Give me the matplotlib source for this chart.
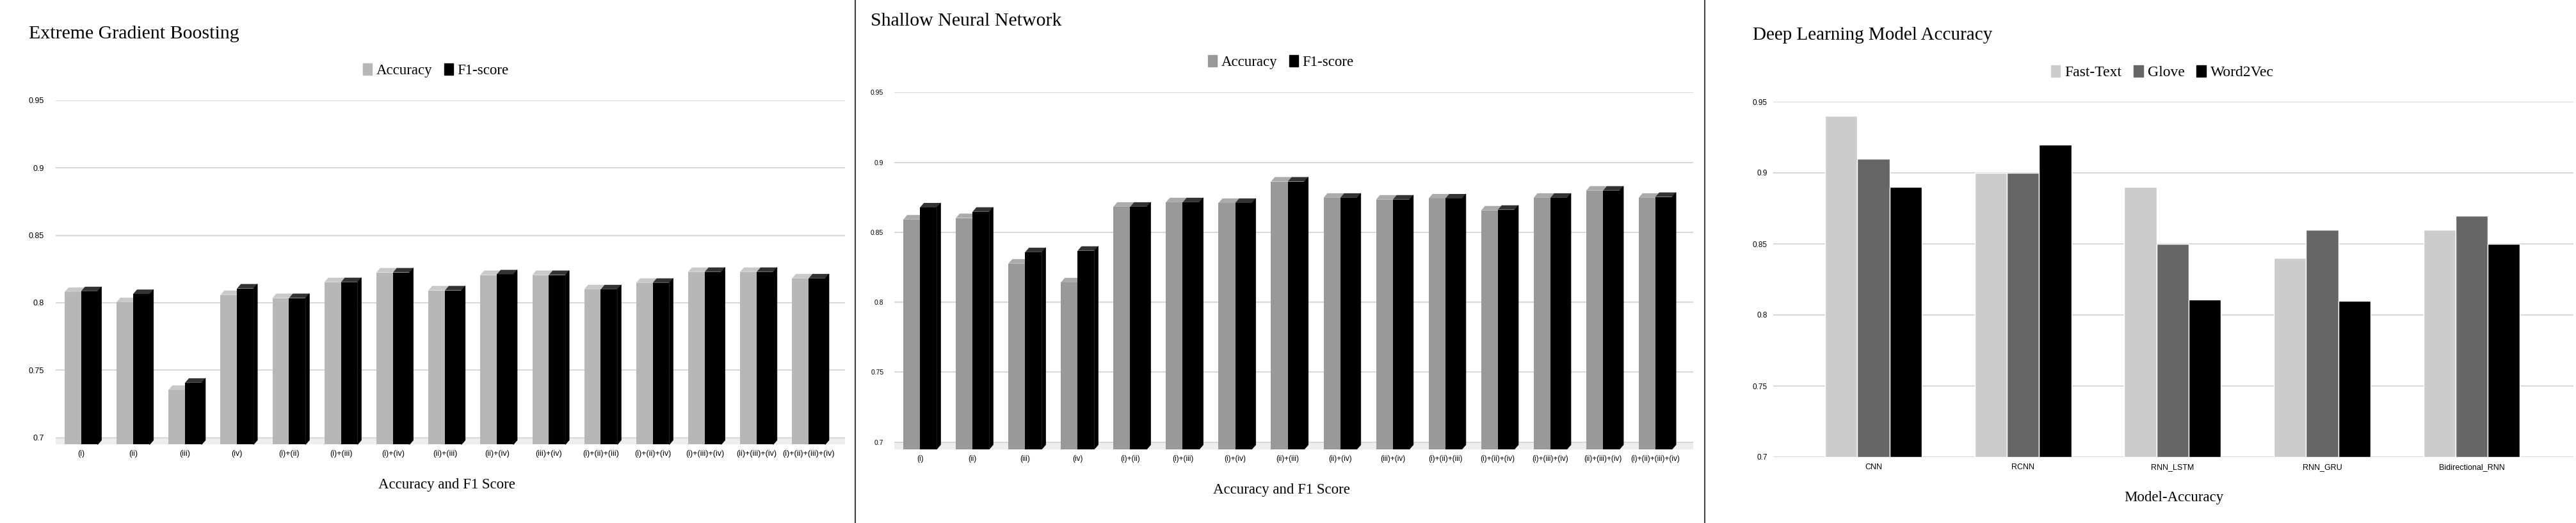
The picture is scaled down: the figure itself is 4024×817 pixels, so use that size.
"""Three bar panels: XGBoost / shallow NN accuracy+F1 per feature combo, DL model accuracy."""

import matplotlib

matplotlib.use("Agg")
import matplotlib.pyplot as plt
import numpy as np
from matplotlib import font_manager
from matplotlib.lines import Line2D
from matplotlib.patches import Patch, Polygon

W, H = 4024, 817

combo_labels = ["(i)", "(ii)", "(iii)", "(iv)", "(i)+(ii)", "(i)+(iii)", "(i)+(iv)",
                "(ii)+(iii)", "(ii)+(iv)", "(iii)+(iv)", "(i)+(ii)+(iii)", "(i)+(ii)+(iv)",
                "(i)+(iii)+(iv)", "(ii)+(iii)+(iv)", "(i)+(ii)+(iii)+(iv)"]

xgb_accuracy = [0.808, 0.8005, 0.7354, 0.8058, 0.8035, 0.8153, 0.8225, 0.8092,
                0.8206, 0.8206, 0.810, 0.8148, 0.8229, 0.8229, 0.8181]
xgb_f1 = [0.8086, 0.8065, 0.7407, 0.8106, 0.8035, 0.8153, 0.8225, 0.8092,
          0.8211, 0.8206, 0.810, 0.8148, 0.8229, 0.8229, 0.8181]

snn_accuracy = [0.8592, 0.8602, 0.8276, 0.8142, 0.8683, 0.8715, 0.8710, 0.8863,
                0.8747, 0.8734, 0.8742, 0.8656, 0.8747, 0.8798, 0.8747]
snn_f1 = [0.8678, 0.8647, 0.8358, 0.8368, 0.8683, 0.8715, 0.8710, 0.8863,
          0.8747, 0.8734, 0.8742, 0.8661, 0.8747, 0.8798, 0.8753]

dl_models = ["CNN", "RCNN", "RNN_LSTM", "RNN_GRU", "Bidirectional_RNN"]
fasttext_acc = [0.94, 0.90, 0.89, 0.84, 0.86]
glove_acc = [0.91, 0.90, 0.85, 0.86, 0.87]
word2vec_acc = [0.89, 0.92, 0.811, 0.81, 0.85]

y_ticks = [0.7, 0.75, 0.8, 0.85, 0.9, 0.95]

names = {f.name for f in font_manager.fontManager.ttflist}
SANS = "Liberation Sans Narrow" if "Liberation Sans Narrow" in names else "Liberation Sans"
SERIF = "Liberation Serif"


def fx(px):
    return px / W


def fy(py):
    return 1 - py / H


def make_axes(fig, left, right, top, bottom):
    return fig.add_axes([fx(left), fy(bottom), fx(right - left), (bottom - top) / H])


def style_axes(ax, ylim, tick_size, ypad, xpad):
    ax.set_ylim(*ylim)
    ax.set_yticks(y_ticks)
    ax.set_yticklabels([f"{t:g}" for t in y_ticks], family=SANS, fontsize=tick_size)
    ax.yaxis.grid(True, color="#D9D9D9", lw=1.5)
    ax.set_axisbelow(True)
    for s in ax.spines.values():
        s.set_visible(False)
    ax.tick_params(axis="y", length=0, pad=ypad)
    ax.tick_params(axis="x", length=0, pad=xpad)


def bars_3d(ax, x, vals, offset, width, bottom, color, cap, dx, dy, side=False):
    rects = ax.bar(x + offset, np.array(vals) - bottom, width, bottom=bottom,
                   color=color, align="edge", zorder=2)
    for r, v in zip(rects, vals):
        x0, w = r.get_x(), r.get_width()
        ax.add_patch(Polygon([(x0, v), (x0 + dx, v + dy), (x0 + w + dx, v + dy), (x0 + w, v)],
                             closed=True, color=cap, lw=0, zorder=2))
        if side:
            ax.add_patch(Polygon([(x0 + w, bottom), (x0 + w, v), (x0 + w + dx, v + dy),
                                  (x0 + w + dx, bottom + dy)],
                                 closed=True, color=color, lw=0.5, zorder=2))


def pair_panel(fig, box, acc, f1, acc_color, acc_cap, xlim, ylim, tick_size, xtick_size,
               ypad, xpad, dy):
    ax = make_axes(fig, *box)
    x = np.arange(len(combo_labels))
    w = 0.318
    dx = 0.074
    ax.axhspan(ylim[0], 0.7, color="#EEEEEE", lw=0, zorder=0)
    bars_3d(ax, x, acc, -w, w, ylim[0], acc_color, acc_cap, dx, dy)
    bars_3d(ax, x, f1, 0, w, ylim[0], "#000000", "#333333", dx, dy, side=True)
    ax.set_xlim(*xlim)
    ax.set_xticks(x)
    ax.set_xticklabels(combo_labels, family=SANS, fontsize=xtick_size)
    style_axes(ax, ylim, tick_size, ypad, xpad)
    return ax


LEG = dict(frameon=False, handlelength=0.6, handleheight=0.8, handletextpad=0.3,
           columnspacing=0.8, loc="center")

fig = plt.figure(figsize=(W / 100, H / 100), dpi=100)

# --- Panel 1: Extreme Gradient Boosting ---------------------------------------
pair_panel(fig, (87, 1320, 157, 694.5), xgb_accuracy, xgb_f1, "#B7B7B7", "#C9C9C9",
           (-0.49, 14.70), (0.6948, 0.95), 9, 9, 13, 6, 0.0033)
fig.text(fx(45), fy(53), "Extreme Gradient Boosting", family=SERIF, fontsize=21.5, va="center")
fig.legend(handles=[Patch(color="#B7B7B7", label="Accuracy"), Patch(color="#000000", label="F1-score")],
           bbox_to_anchor=(fx(681), fy(110)), ncol=2, prop={"family": SERIF, "size": 16.5}, **LEG)
fig.text(fx(698), fy(757), "Accuracy and F1 Score", family=SERIF, fontsize=16.5,
         ha="center", va="center")

# --- Panel 2: Shallow Neural Network ------------------------------------------
pair_panel(fig, (1397, 2645, 144.4, 701.7), snn_accuracy, snn_f1, "#999999", "#ABABAB",
           (-0.49, 14.72), (0.6949, 0.95), 7.5, 8.5, 12, 7, 0.0032)
fig.text(fx(1360), fy(33), "Shallow Neural Network", family=SERIF, fontsize=21.5, va="center")
fig.legend(handles=[Patch(color="#999999", label="Accuracy"), Patch(color="#000000", label="F1-score")],
           bbox_to_anchor=(fx(2001), fy(97)), ncol=2, prop={"family": SERIF, "size": 16.5}, **LEG)
fig.text(fx(2002), fy(765), "Accuracy and F1 Score", family=SERIF, fontsize=16.5,
         ha="center", va="center")

# --- Panel 3: Deep Learning Model Accuracy ------------------------------------
ax3 = make_axes(fig, 2770, 4020, 159, 714)
xm = np.arange(len(dl_models))
bw = 0.215
series = [(fasttext_acc, "#CCCCCC", "Fast-Text"), (glove_acc, "#666666", "Glove"),
          (word2vec_acc, "#000000", "Word2Vec")]
for i, (vals, col, lab) in enumerate(series):
    ax3.bar(xm + (i - 1) * bw, np.array(vals) - 0.7, bw, bottom=0.7, color=col,
            edgecolor="white", lw=1, label=lab, zorder=2)
ax3.set_xlim(-0.67, 4.68)
ax3.set_xticks(xm)
ax3.set_xticklabels(dl_models, family=SANS, fontsize=9)
style_axes(ax3, (0.7, 0.95), 8.5, 6.5, 7)
ax3.axhline(0.7, color="#D9D9D9", lw=1.5, zorder=1)
fig.text(fx(2738), fy(55), "Deep Learning Model Accuracy", family=SERIF, fontsize=21, va="center")
fig.legend(handles=[Patch(color=c, label=l) for _, c, l in series],
           bbox_to_anchor=(fx(3378), fy(113)), ncol=3, prop={"family": SERIF, "size": 17}, **LEG)
fig.text(fx(3396), fy(777), "Model-Accuracy", family=SERIF, fontsize=16.5,
         ha="center", va="center")

# panel separators
for xs in (1336, 2663):
    fig.add_artist(Line2D([fx(xs)] * 2, [0, 1], transform=fig.transFigure, color="#404040", lw=1.5))

fig.savefig("out.png", dpi=100)
